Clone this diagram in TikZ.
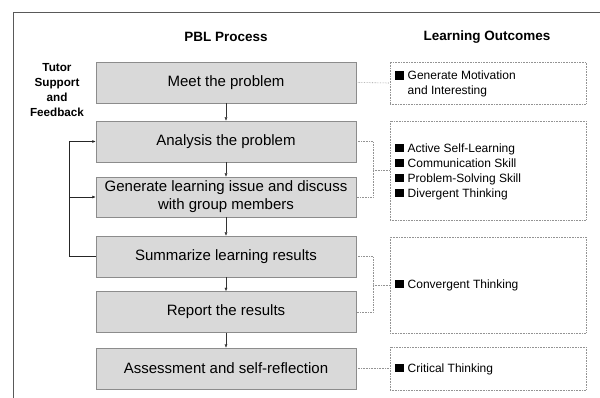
\documentclass[tikz,border=0pt]{standalone}
\usepackage{fontspec}
\setmainfont{Liberation Sans}
\usetikzlibrary{arrows.meta}
\newcommand{\bsq}{\rule{8.5pt}{8.5pt}\hspace{4pt}}

\begin{document}
\begin{tikzpicture}[x=1pt,y=-1pt,
    stage/.style={draw=gray!90,fill=gray!30,minimum width=260pt,minimum height=41pt,inner sep=0pt,
        align=center,font=\fontsize{15}{18}\selectfont},
    outcome/.style={draw=gray!85,densely dotted,line width=0.6pt,minimum width=196pt,inner sep=0pt},
    outtext/.style={anchor=west,align=left,inner sep=0pt,font=\fontsize{12}{15}\selectfont},
    link/.style={gray!85,densely dotted,line width=0.6pt},
    title/.style={font=\bfseries\fontsize{13.5}{15}\selectfont}]
        \useasboundingbox (0,0) rectangle (600,398);
        \draw[gray!70!black,line width=0.8pt] (13,398) -- (13,12) -- (600,12);
        \node[title] (ptitle) at (226,37) {PBL Process};
        \node[title] (otitle) at (487,37) {Learning Outcomes};
        \node[title,font=\bfseries\fontsize{11.7}{15}\selectfont,align=center] (tutor) at (57,90)
            {Tutor\\Support\\and\\Feedback};
        % process stages
        \node[stage] (s1) at (226,82.5) {Meet the problem};
        \node[stage] (s2) at (226,141.5) {Analysis the problem};
        \node[stage,minimum height=40pt] (s3) at (226,197) {Generate learning issue and discuss\\with group members};
        \node[stage] (s4) at (226,256.5) {Summarize learning results};
        \node[stage] (s5) at (226,312) {Report the results};
        \node[stage] (s6) at (226,368.5) {Assessment and self-reflection};
        \foreach \a/\b in {s1/s2, s2/s3, s3/s4, s4/s5, s5/s6}
        \draw[black!80,-{Latex[length=3.5pt,width=3pt]}] (\a.south) -- (\b.north);
        % feedback loop
        \coordinate (loop) at (69,0);
        \draw[black!85,line width=0.7pt,-{Latex[length=3.5pt,width=3pt]}] (s4.west) -- (s4.west -| loop) |- (s2.west);
        \draw[black!85,line width=0.7pt,-{Latex[length=3.5pt,width=3pt]}] (s3.west -| loop) -- (s3.west);
        % learning outcomes
        \node[outcome,minimum height=42pt] (o1) at (488,83) {};
        \node[outcome,minimum height=99pt] (o2) at (488,170.5) {};
        \node[outcome,minimum height=96pt] (o3) at (488,285) {};
        \node[outcome,minimum height=43pt] (o4) at (488,368.5) {};
        \node[outtext] (t1) at (395,84) {\bsq Generate Motivation\\\hspace{12.5pt}and Interesting};
        \node[outtext] (t2) at (395,171.5) {\bsq Active Self-Learning\\\bsq Communication Skill\\
            \bsq Problem-Solving Skill\\\bsq Divergent Thinking};
        \node[outtext] (t3) at (395,285) {\bsq Convergent Thinking};
        \node[outtext] (t4) at (395,369) {\bsq Critical Thinking};
        % dotted links
        \coordinate (j1) at (373,170);
        \coordinate (j2) at (373,285);
        \draw[link] (s1.east) -- (o1.west);
        \draw[link] (s2.east) -| (j1) |- (s3.east);
        \draw[link] (j1) -- (j1 -| o2.west);
        \draw[link] (s4.east) -| (j2) |- (s5.east);
        \draw[link] (j2) -- (j2 -| o3.west);
        \draw[link] (s6.east) -- (o4.west);
\end{tikzpicture}
\end{document}
